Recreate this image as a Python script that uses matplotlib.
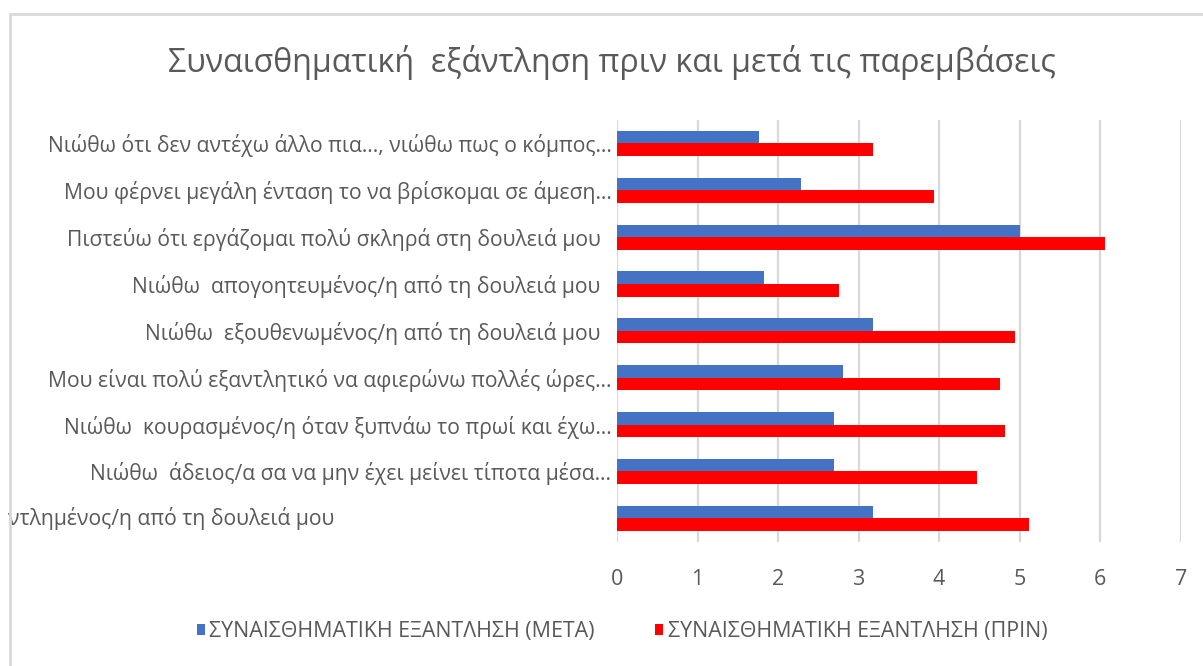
import matplotlib
matplotlib.use("Agg")
import matplotlib.pyplot as plt
from matplotlib import font_manager
from matplotlib.patches import Rectangle, Patch
from matplotlib.transforms import blended_transform_factory
import numpy as np

# Category labels (top to bottom as shown)
categories = [
    "Νιώθω ότι δεν αντέχω άλλο πια…, νιώθω πως ο κόμπος…",
    "Μου φέρνει μεγάλη ένταση το να βρίσκομαι σε άμεση…",
    "Πιστεύω ότι εργάζομαι πολύ σκληρά στη δουλειά μου  ",
    "Νιώθω  απογοητευμένος/η από τη δουλειά μου  ",
    "Νιώθω  εξουθενωμένος/η από τη δουλειά μου  ",
    "Μου είναι πολύ εξαντλητικό να αφιερώνω πολλές ώρες…",
    "Νιώθω  κουρασμένος/η όταν ξυπνάω το πρωί και έχω…",
    "Νιώθω  άδειος/α σα να μην έχει μείνει τίποτα μέσα…",
    "ντλημένος/η από τη δουλειά μου",
]
after_values = [1.76, 2.29, 5.00, 1.82, 3.18, 2.81, 2.70, 2.70, 3.18]
before_values = [3.18, 3.94, 6.06, 2.76, 4.94, 4.76, 4.82, 4.47, 5.12]
series_names = ["ΣΥΝΑΙΣΘΗΜΑΤΙΚΗ ΕΞΑΝΤΛΗΣΗ (ΜΕΤΑ)", "ΣΥΝΑΙΣΘΗΜΑΤΙΚΗ ΕΞΑΝΤΛΗΣΗ (ΠΡΙΝ)"]
x_ticks = [0, 1, 2, 3, 4, 5, 6, 7]
title = "Συναισθηματική  εξάντληση πριν και μετά τις παρεμβάσεις"

available = {f.name for f in font_manager.fontManager.ttflist}
family = "Liberation Sans Narrow" if "Liberation Sans Narrow" in available else "Open Sans"
plt.rcParams["font.family"] = [family, "DejaVu Sans"]

TEXT = "#595959"
GRID = "#D9D9D9"
BLUE = "#4472C4"
RED = "#FF0000"
LABEL_SIZE = 15.2

W, H = 1203, 666
fig = plt.figure(figsize=(W / 100, H / 100), dpi=100)

# chart-area frame (top and left edges visible)
fig.patches.append(Rectangle((9.5 / W, -0.1), 1.2, 1 - 13.5 / H + 0.1,
                             transform=fig.transFigure, fill=False,
                             edgecolor=GRID, linewidth=2))

ax = fig.add_axes([617 / W, 1 - 541.7 / H, (1180.7 - 617) / W, (541.7 - 120) / H])

n = len(categories)
pos = np.arange(n)
bh = 0.267
ax.barh(pos - bh / 2, after_values, height=bh, color=BLUE, label=series_names[0], zorder=3)
ax.barh(pos + bh / 2, before_values, height=bh, color=RED, label=series_names[1], zorder=3)

ax.set_ylim(n - 0.5, -0.5)
ax.set_xlim(0, 7)
ax.set_xticks(x_ticks)
ax.set_xticklabels([str(t) for t in x_ticks])
ax.set_yticks(pos[:-1])
ax.set_yticklabels(categories[:-1])

ax.grid(axis="x", color=GRID, linewidth=1.6, zorder=0)
ax.grid(axis="y", visible=False)
for s in ax.spines.values():
    s.set_visible(False)
ax.tick_params(axis="both", length=0, colors=TEXT)
ax.tick_params(axis="y", labelsize=LABEL_SIZE, pad=4)
ax.tick_params(axis="x", labelsize=15.5, pad=20)

# last category label sits at the left edge of the chart area
ax.text(8 / W, pos[-1], categories[-1],
        transform=blended_transform_factory(fig.transFigure, ax.transData),
        ha="left", va="center", fontsize=LABEL_SIZE, color=TEXT)

fig.text(612 / W, 1 - 63 / H, title, ha="center", va="center", fontsize=23.1, color=TEXT)

handles = [Patch(facecolor=BLUE), Patch(facecolor=RED)]
fig.legend(handles, series_names, loc="center", bbox_to_anchor=(622 / W, 1 - 632 / H),
           ncol=2, frameon=False, fontsize=15.4, labelcolor=TEXT,
           handlelength=0.4, handleheight=0.4, handletextpad=0.2, columnspacing=2.8)

fig.savefig("out.png", dpi=100)
